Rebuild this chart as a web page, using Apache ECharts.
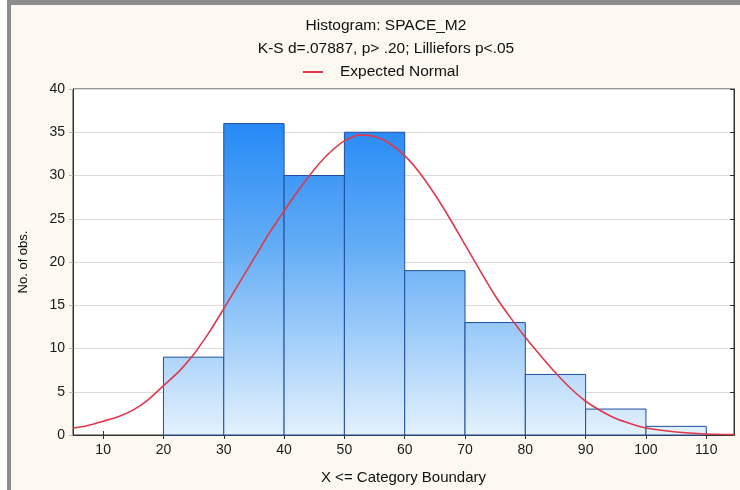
<!DOCTYPE html>
<html>
<head>
<meta charset="utf-8">
<script src="https://cdn.jsdelivr.net/npm/echarts@6/dist/echarts.min.js"></script>
<style>
  html, body { margin: 0; padding: 0; background: #fdf9f0; }
  #chart { width: 740px; height: 490px; }
</style>
</head>
<body>
<div id="chart"></div>
<script>
// histogram bins: lower bound, upper bound, count
var binStart = [20, 30, 40, 50, 60, 70, 80, 90, 100];
var binEnd   = [30, 40, 50, 60, 70, 80, 90, 100, 110];
var binCount = [9, 36, 30, 35, 19, 13, 7, 3, 1];

// expected normal curve
var curveX = [5, 7.5, 10, 12.5, 15, 17.5, 20, 22.5, 25, 27.5, 30, 32.5, 35, 37.5, 40, 42.5, 45, 47.5, 50,
              52.5, 55, 57.5, 60, 62.5, 65, 67.5, 70, 72.5, 75, 77.5, 80, 82.5, 85, 87.5, 90, 92.5, 95,
              97.5, 100, 105, 110, 114.6];
var curveY = [0.8, 1.1, 1.6, 2.1, 2.9, 4.1, 5.7, 7.3, 9.3, 11.8, 14.6, 17.5, 20.4, 23.3, 25.9, 28.4, 30.7, 32.6, 34.0,
              34.7, 34.5, 33.7, 32.3, 30.3, 27.8, 25.0, 22.0, 19.0, 16.1, 13.6, 11.3, 9.2, 7.2, 5.4, 3.9, 2.8, 1.9,
              1.3, 0.8, 0.35, 0.12, 0.04];

var xTicks = [10, 20, 30, 40, 50, 60, 70, 80, 90, 100, 110];

var font = 'Liberation Sans, Arial, sans-serif';

var bins = [];
for (var i = 0; i < binCount.length; i++) {
  bins.push([binStart[i], binEnd[i], binCount[i]]);
}
var curve = [];
for (var j = 0; j < curveX.length; j++) {
  curve.push([curveX[j], curveY[j]]);
}

var myChart = echarts.init(document.getElementById('chart'));

var option = {
  backgroundColor: '#fdf9f0',
  animation: false,
  textStyle: { fontFamily: font },
  graphic: [
    { type: 'rect', shape: { x: 0, y: 0, width: 7, height: 490 }, style: { fill: '#ffffff' }, silent: true },
    { type: 'rect', shape: { x: 7, y: 0, width: 4, height: 490 }, style: { fill: '#8c8c8c' }, silent: true },
    { type: 'rect', shape: { x: 7, y: 0, width: 733, height: 5 }, style: { fill: '#8c8c8c' }, silent: true }
  ],
  title: [
    {
      text: 'Histogram: SPACE_M2',
      left: 381, top: 13, textAlign: 'center',
      textStyle: { fontFamily: font, fontSize: 15.5, fontWeight: 'normal', color: '#111' }
    },
    {
      text: 'K-S d=.07887, p> .20; Lilliefors p<.05',
      left: 381, top: 36, textAlign: 'center',
      textStyle: { fontFamily: font, fontSize: 15.5, fontWeight: 'normal', color: '#111' }
    }
  ],
  legend: {
    data: [{ name: 'Expected Normal', icon: 'rect' }],
    left: 298, top: 59,
    itemWidth: 20, itemHeight: 2, itemGap: 8,
    textStyle: { fontFamily: font, fontSize: 15.5, color: '#111', padding: [0, 0, 0, 12] }
  },
  grid: {
    left: 73, right: 6, top: 89, bottom: 53,
    show: true, borderColor: '#333', borderWidth: 1, backgroundColor: '#ffffff'
  },
  xAxis: [
    {
      type: 'value', min: 5, max: 114.6,
      name: 'X <= Category Boundary', nameLocation: 'middle', nameGap: 35,
      nameTextStyle: { fontFamily: font, fontSize: 15, color: '#111' },
      axisLine: { show: true, lineStyle: { color: '#333' } },
      axisTick: { show: true, inside: true, length: 4, customValues: xTicks, lineStyle: { color: '#333' } },
      axisLabel: { customValues: xTicks, fontSize: 14, color: '#1a1a1a', margin: 8 },
      splitLine: { show: false }
    },
    {
      type: 'value', min: 5, max: 114.6, position: 'top',
      axisLine: { show: true, lineStyle: { color: '#333' } },
      axisTick: { show: true, inside: true, length: 4, customValues: xTicks, lineStyle: { color: '#333' } },
      axisLabel: { show: false },
      splitLine: { show: false }
    }
  ],
  yAxis: [
    {
      type: 'value', min: 0, max: 40, interval: 5,
      name: 'No. of obs.', nameLocation: 'middle', nameGap: 43,
      nameTextStyle: { fontFamily: font, fontSize: 13, color: '#111' },
      axisLine: { show: true, lineStyle: { color: '#333' } },
      axisTick: { show: true, length: 4, lineStyle: { color: '#bbb' } },
      axisLabel: { fontSize: 14, color: '#1a1a1a', margin: 8 },
      splitLine: { show: true, lineStyle: { color: '#dcdcdc', width: 1 } }
    },
    {
      type: 'value', min: 0, max: 40, interval: 5, position: 'right',
      axisLine: { show: true, lineStyle: { color: '#333' } },
      axisTick: { show: true, inside: true, length: 4, lineStyle: { color: '#333' } },
      axisLabel: { show: false },
      splitLine: { show: false }
    }
  ],
  series: [
    {
      type: 'custom',
      name: 'Histogram',
      data: bins,
      encode: { x: [0, 1], y: 2 },
      renderItem: function (params, api) {
        var p0 = api.coord([api.value(0), api.value(2)]);
        var p1 = api.coord([api.value(1), 0]);
        var top = api.coord([0, 40]);
        var bottom = api.coord([0, 0]);
        var grad = new echarts.graphic.LinearGradient(0, top[1], 0, bottom[1], [
          { offset: 0, color: '#1580f5' },
          { offset: 0.45, color: '#62acf6' },
          { offset: 1, color: '#e3f1fd' }
        ], true);
        return {
          type: 'rect',
          shape: { x: p0[0], y: p0[1], width: p1[0] - p0[0], height: p1[1] - p0[1] },
          style: { fill: grad, stroke: '#1f4e9e', lineWidth: 1 }
        };
      },
      z: 2
    },
    {
      type: 'line',
      name: 'Expected Normal',
      data: curve,
      smooth: 0.2,
      symbol: 'none',
      itemStyle: { color: '#e0384a' },
      lineStyle: { color: '#e0384a', width: 1.6 },
      z: 3
    }
  ]
};

option && myChart.setOption(option);
</script>
</body>
</html>
